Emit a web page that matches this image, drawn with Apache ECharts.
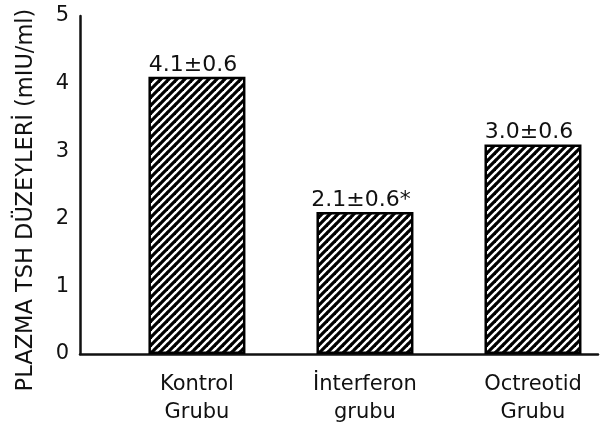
<!DOCTYPE html>
<html><head><meta charset="utf-8">
<script src="https://cdn.jsdelivr.net/npm/echarts@6/dist/echarts.min.js"></script>
<style>html,body{margin:0;padding:0;background:#fff}#c{width:604px;height:423px}</style>
</head><body><div id="c"></div>
<script>
const categories = ['Kontrol\nGrubu', 'İnterferon\ngrubu', 'Octreotid\nGrubu'];
const values = [4.1, 2.1, 3.1];
const valueLabels = ['4.1±0.6', '2.1±0.6*', '3.0±0.6'];
const yTicks = [0, 1, 2, 3, 4, 5];
const yName = 'PLAZMA TSH DÜZEYLERİ (mIU/ml)';

// hatch pattern
const tile = document.createElement('canvas');
tile.width = 8; tile.height = 8;
const g = tile.getContext('2d');
g.fillStyle = '#fff'; g.fillRect(0, 0, 8, 8);
g.strokeStyle = '#000'; g.lineWidth = 3.2;
for (let k = -8; k <= 8; k += 8) {
  g.beginPath(); g.moveTo(k - 1, 9); g.lineTo(k + 9, -1); g.stroke();
}

const font = 'DejaVu Sans';
const chart = echarts.init(document.getElementById('c'), null, {renderer: 'canvas'});
chart.setOption({
  animation: false,
  backgroundColor: '#fff',
  grid: {left: 80, right: 6, top: 16, bottom: 69, outerBoundsMode: 'none', containLabel: false},
  xAxis: {
    type: 'value', min: -0.696, max: 2.387,
    splitLine: {show: false},
    axisLine: {show: true, onZero: false, lineStyle: {color: '#111', width: 2.5}},
    axisTick: {show: false},
    axisLabel: {
      customValues: [0, 1, 2],
      formatter: v => categories[Math.round(v)] || '',
      color: '#111', fontFamily: font, fontSize: 21, lineHeight: 28, margin: 17
    }
  },
  yAxis: {
    type: 'value', min: 0, max: 5,
    axisLabel: {
      customValues: yTicks,
      color: '#111', fontFamily: font, fontSize: 21, margin: 11
    },
    splitLine: {show: false},
    axisTick: {show: false},
    axisLine: {show: true, onZero: false, lineStyle: {color: '#111', width: 2.5}},
    name: yName, nameLocation: 'middle', nameGap: 42, nameRotate: 90,
    nameTextStyle: {color: '#111', fontFamily: font, fontSize: 22.5, padding: [0, 30, 0, 0]}
  },
  series: [{
    type: 'bar',
    barWidth: 97,
    data: values.map((v, i) => [i, v]),
    itemStyle: {color: {image: tile, repeat: 'repeat'}, borderColor: '#000', borderWidth: 2.5},
    label: {
      show: true, position: 'top', distance: 1, offset: [-4, 0],
      formatter: p => valueLabels[p.dataIndex],
      color: '#111', fontFamily: font, fontSize: 22
    }
  }]
});
</script></body></html>
